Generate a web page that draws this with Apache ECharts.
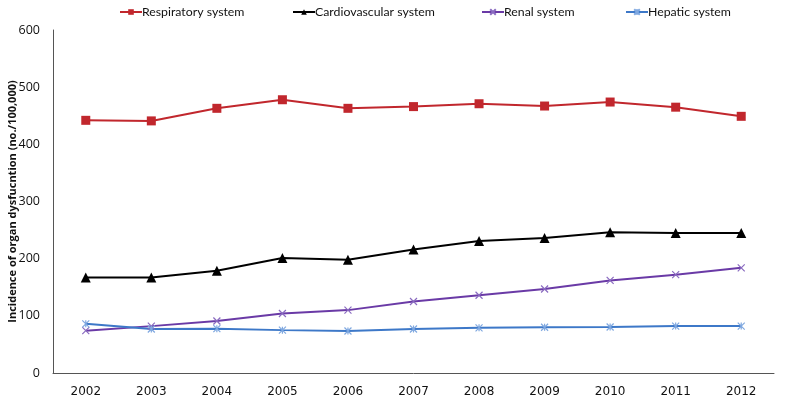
<!DOCTYPE html>
<html><head><meta charset="utf-8">
<script src="https://cdn.jsdelivr.net/npm/echarts@6/dist/echarts.min.js"></script>
<style>html,body{margin:0;padding:0;background:#fff}#c{width:786px;height:406px}</style>
</head><body><div id="c"></div>
<script>
const years = ['2002','2003','2004','2005','2006','2007','2008','2009','2010','2011','2012'];
const respiratory = [442, 441, 463, 478, 463, 466, 471, 467, 474, 465, 449];
const cardiovascular = [167, 167, 179, 201, 198, 216, 231, 236, 246, 245, 245];
const renal = [74, 82, 91, 104, 110, 125, 136, 147, 162, 172, 184];
const hepatic = [86, 77, 77.5, 75, 73.5, 77, 79, 80, 80.5, 82, 82];
const yTicks = [0, 100, 200, 300, 400, 500, 600];
const seriesNames = ['Respiratory system', 'Cardiovascular system', 'Renal system', 'Hepatic system'];

const xPath = 'path://M0,0L10,10M10,0L0,10';
const starPath = 'path://M0,0L10,10M10,0L0,10M5,0L5,10';
function mk(name, data, color, symbol, size, symColor) {
  return {
    name, type: 'line', data, smooth: false,
    symbol, symbolSize: size,
    lineStyle: { color, width: 2 },
    itemStyle: { color: symColor || color, borderColor: symColor || color, borderWidth: symbol.startsWith('path') ? 1.2 : 0 },
    emphasis: { disabled: true }
  };
}
const legendLefts = [119, 292, 481, 625];
const legends = seriesNames.map((n, i) => ({
  top: 6, left: legendLefts[i], itemWidth: 22, itemHeight: 7, itemGap: 0, padding: 0,
  textStyle: { fontSize: 12.3, color: '#111', fontFamily: 'Lato', padding: [0,0,0,-5] },
  data: [n]
}));
const chart = echarts.init(document.getElementById('c'), null, { renderer: 'canvas' });
chart.setOption({
  animation: false,
  backgroundColor: '#fff',
  textStyle: { fontFamily: 'Open Sans' },
  legend: legends,
  grid: { left: 53, right: 12, top: 30, bottom: 33, containLabel: false, outerBoundsMode: 'none' },
  xAxis: {
    type: 'category', data: years, boundaryGap: true,
    axisLine: { lineStyle: { color: '#555', width: 1 } },
    axisTick: { show: false },
    axisLabel: { color: '#111', fontSize: 12, fontFamily: 'DejaVu Sans', margin: 13 }
  },
  yAxis: {
    type: 'value', min: yTicks[0], max: yTicks[yTicks.length - 1], interval: 100,
    name: 'Incidence of organ dysfucntion (no./100,000)',
    nameLocation: 'middle', nameGap: 35, nameRotate: 90, nameMoveOverlap: false,
    nameTextStyle: { fontSize: 11, fontWeight: 'bold', color: '#111', fontFamily: 'Open Sans' },
    axisLine: { show: true, lineStyle: { color: '#555', width: 1 } },
    axisTick: { show: false },
    splitLine: { show: false },
    axisLabel: { color: '#111', fontSize: 12.5, fontFamily: 'Open Sans', margin: 13 }
  },
  series: [
    mk(seriesNames[0], respiratory, '#c1272d', 'rect', 9),
    mk(seriesNames[1], cardiovascular, '#000', 'triangle', 10),
    mk(seriesNames[2], renal, '#6a3aa6', xPath, 7, '#8a6bc0'),
    mk(seriesNames[3], hepatic, '#3d78c8', starPath, 7, '#7fa8e0')
  ]
});
</script></body></html>
